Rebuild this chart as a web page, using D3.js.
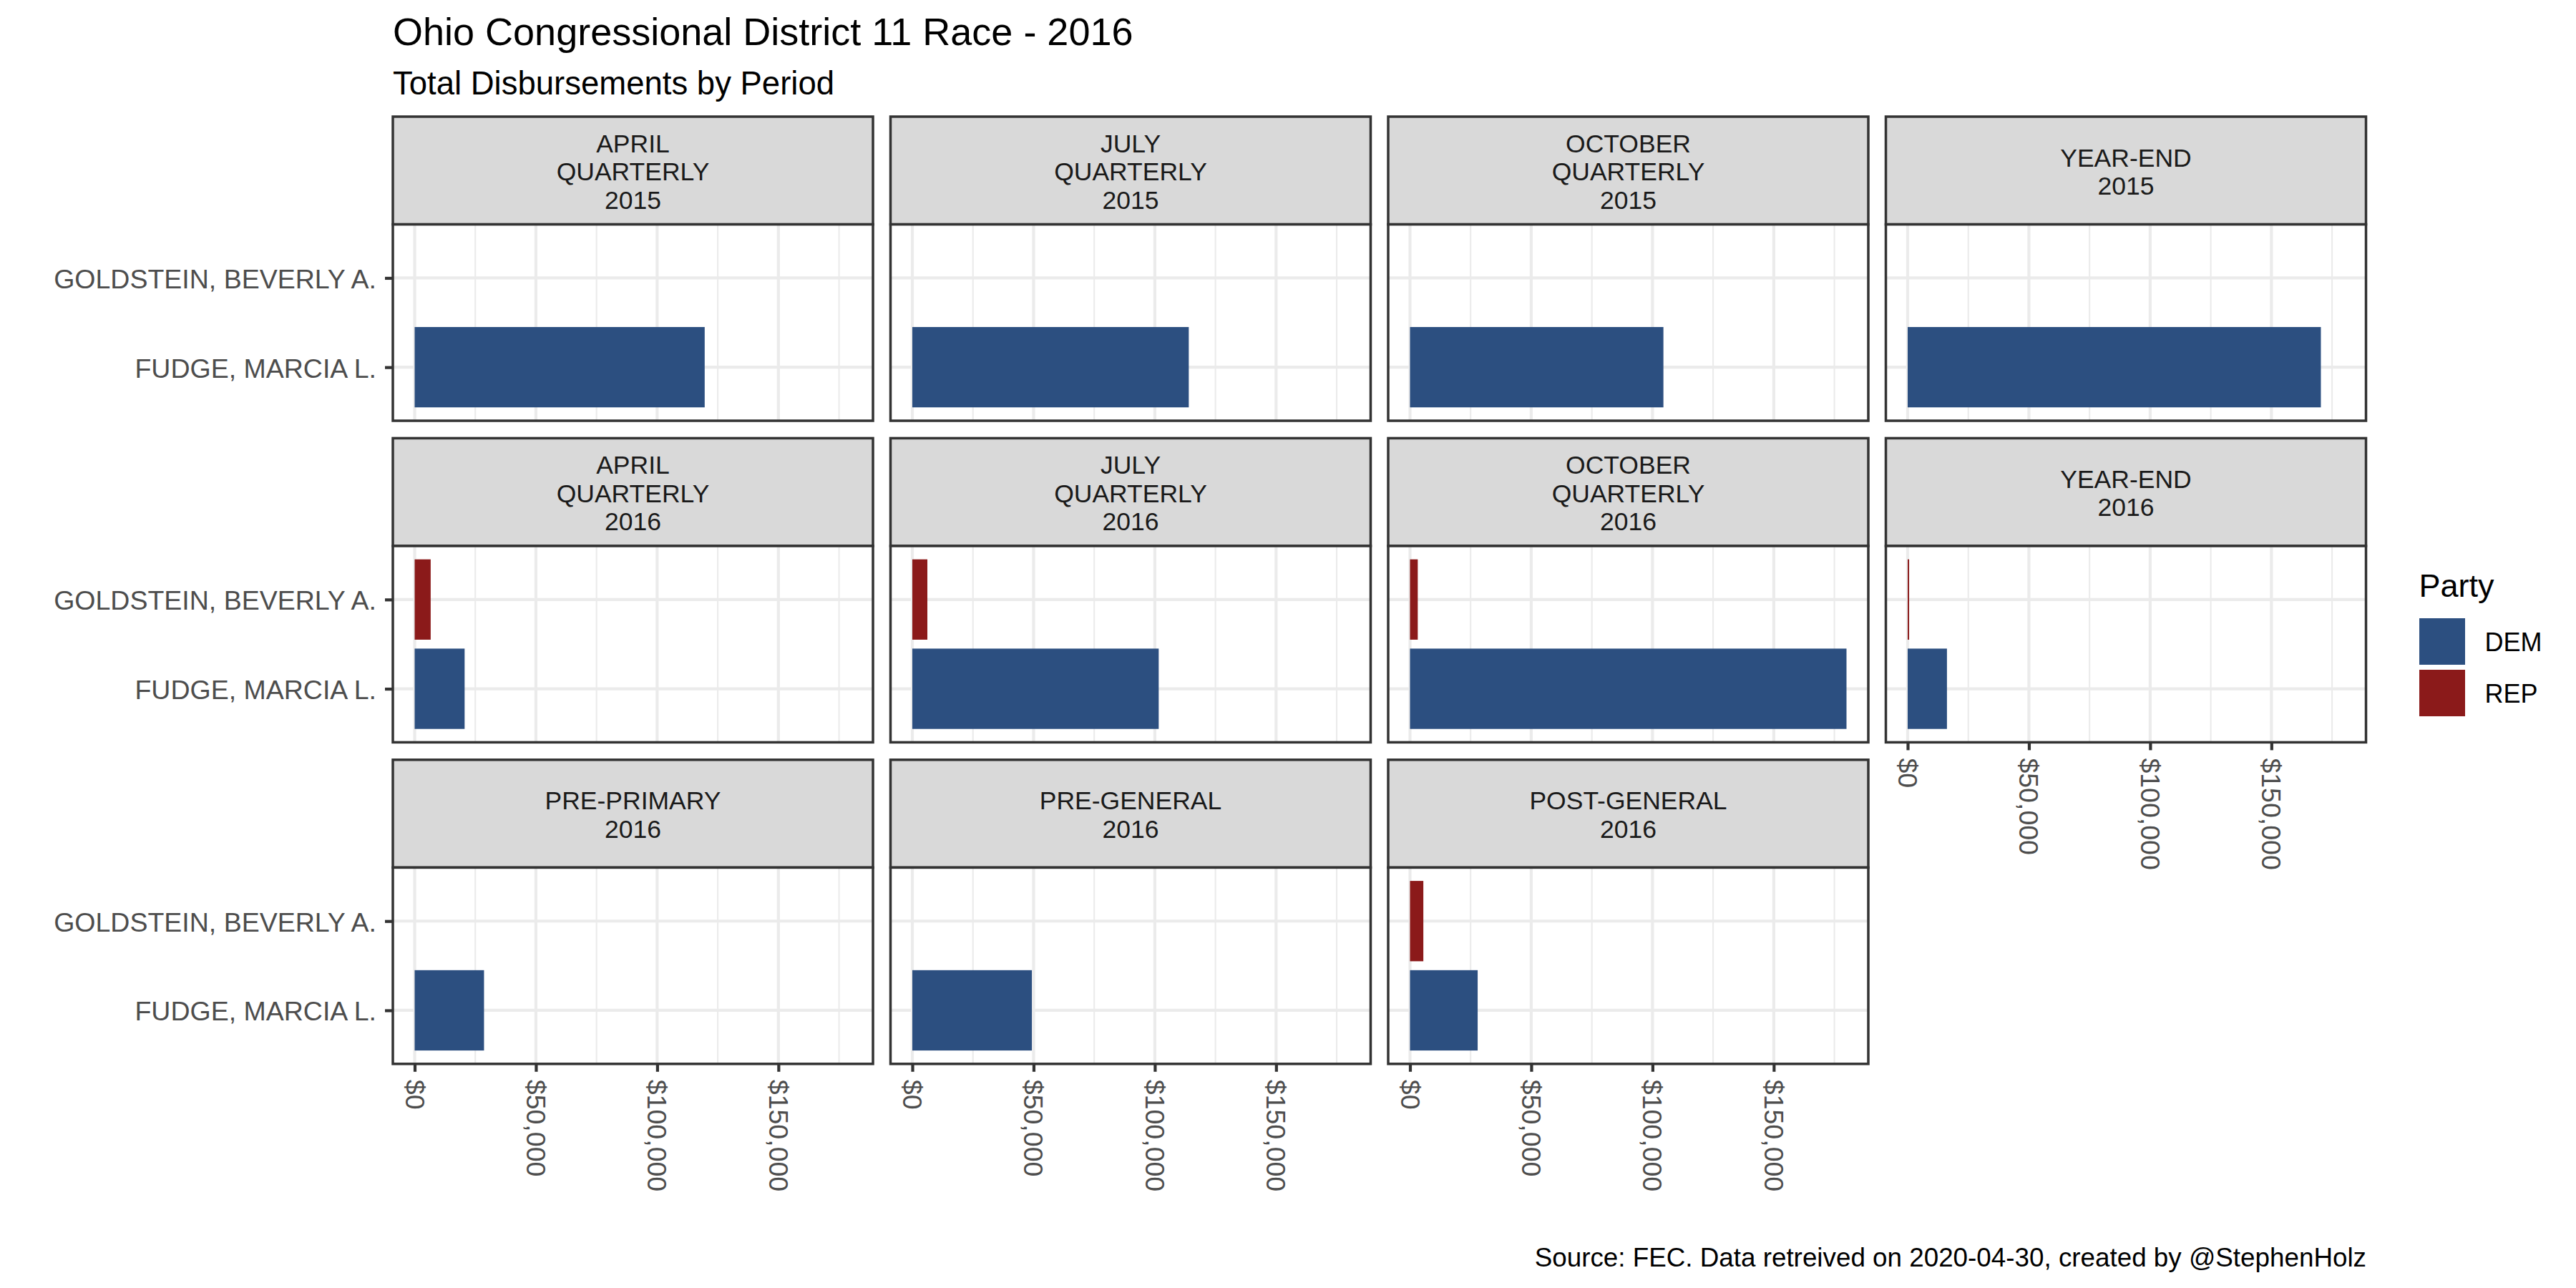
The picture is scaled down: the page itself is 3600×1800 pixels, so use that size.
<!DOCTYPE html>
<meta charset="utf-8">
<html>
<head>
<title>Ohio CD 11 disbursements</title>
<script src="https://cdn.jsdelivr.net/npm/d3@7"></script>
<style>
  body { margin: 0; background: #fff; }
  text { font-family: "Liberation Sans", Arial, sans-serif; }
</style>
</head>
<body>
<div id="chart"></div>
<script>
// facet labels (one entry per panel, lines split by "\n")
var periods = ["APRIL\nQUARTERLY\n2015", "JULY\nQUARTERLY\n2015", "OCTOBER\nQUARTERLY\n2015", "YEAR-END\n2015",
               "APRIL\nQUARTERLY\n2016", "JULY\nQUARTERLY\n2016", "OCTOBER\nQUARTERLY\n2016", "YEAR-END\n2016",
               "PRE-PRIMARY\n2016", "PRE-GENERAL\n2016", "POST-GENERAL\n2016"];
var candidates = ["GOLDSTEIN, BEVERLY A.", "FUDGE, MARCIA L."];
var parties = ["DEM", "REP"];
var partyColors = ["#2C4F80", "#8B1A1A"];
// disbursements per period (null = no filing)
var fudgeDEM = [119600, 114000, 104500, 170400, 20600, 101600, 180000, 16200, 28600, 49300, 27900];
var goldsteinREP = [null, null, null, null, 6600, 6200, 3200, 600, null, null, 5500];
var xTicks = [0, 50000, 100000, 150000];
var xMinor = [25000, 75000, 125000, 175000];

var W = 3600, H = 1800;
var left = 549, top0 = 163, panelW = 671, panelH = 274.4, stripH = 150.6, gapX = 24.5, gapY = 24.4;
var ncol = 4;
var axisFont = "37.5px";

var svg = d3.select("#chart").append("svg")
    .attr("width", W).attr("height", H);

svg.append("rect").attr("width", W).attr("height", H).attr("fill", "#fff");

svg.append("text").attr("x", left).attr("y", 63)
    .attr("font-size", "54px").attr("fill", "#000")
    .text("Ohio Congressional District 11 Race - 2016");
svg.append("text").attr("x", left).attr("y", 132)
    .attr("font-size", "45.5px").attr("fill", "#000")
    .text("Total Disbursements by Period");

var allVals = fudgeDEM.concat(goldsteinREP.filter(function(d){ return d != null; }));
var xmax = d3.max(allVals);
var x = d3.scaleLinear().domain([-0.05 * xmax, 1.05 * xmax]).range([0, panelW]);
var y = d3.scalePoint().domain(candidates).range([0, panelH]).padding(0.6);
var barH = y.step() * 0.9;

periods.forEach(function(p, i) {
    var col = i % ncol, row = Math.floor(i / ncol);
    var px = left + col * (panelW + gapX);
    var sy = top0 + row * (stripH + panelH + gapY);
    var py = sy + stripH;

    // strip
    var strip = svg.append("g").attr("transform", "translate(" + px + "," + sy + ")");
    strip.append("rect").attr("width", panelW).attr("height", stripH)
        .attr("fill", "#D9D9D9").attr("stroke", "#333333").attr("stroke-width", 3.5);
    var lines = p.split("\n");
    lines.forEach(function(l, j) {
        strip.append("text")
            .attr("x", panelW / 2)
            .attr("y", stripH / 2 - (lines.length - 1) / 2 * 39.3 + j * 39.3 + 14)
            .attr("text-anchor", "middle")
            .attr("font-size", "35.5px").attr("fill", "#1A1A1A")
            .text(l);
    });

    var g = svg.append("g").attr("transform", "translate(" + px + "," + py + ")");
    g.append("rect").attr("width", panelW).attr("height", panelH).attr("fill", "#fff");

    // grid
    g.selectAll(".minor").data(xMinor).enter().append("line")
        .attr("x1", function(d){ return x(d); }).attr("x2", function(d){ return x(d); })
        .attr("y1", 0).attr("y2", panelH)
        .attr("stroke", "#EBEBEB").attr("stroke-width", 2.1);
    g.selectAll(".major").data(xTicks).enter().append("line")
        .attr("x1", function(d){ return x(d); }).attr("x2", function(d){ return x(d); })
        .attr("y1", 0).attr("y2", panelH)
        .attr("stroke", "#EBEBEB").attr("stroke-width", 4.2);
    g.selectAll(".hmajor").data(candidates).enter().append("line")
        .attr("x1", 0).attr("x2", panelW)
        .attr("y1", function(d){ return y(d); }).attr("y2", function(d){ return y(d); })
        .attr("stroke", "#EBEBEB").attr("stroke-width", 4.2);

    // bars
    var rows = [
        {cand: candidates[1], party: 0, v: fudgeDEM[i]},
        {cand: candidates[0], party: 1, v: goldsteinREP[i]}
    ].filter(function(d){ return d.v != null; });
    g.selectAll(".bar").data(rows).enter().append("rect")
        .attr("x", x(0))
        .attr("y", function(d){ return y(d.cand) - barH / 2; })
        .attr("width", function(d){ return x(d.v) - x(0); })
        .attr("height", barH)
        .attr("fill", function(d){ return partyColors[d.party]; });

    g.append("rect").attr("width", panelW).attr("height", panelH)
        .attr("fill", "none").attr("stroke", "#333333").attr("stroke-width", 3.5);

    // y axis on first column
    if (col === 0) {
        var ya = g.append("g").call(d3.axisLeft(y).tickSize(11).tickPadding(12));
        ya.select(".domain").remove();
        ya.selectAll("line").attr("stroke", "#333333").attr("stroke-width", 4.2);
        ya.selectAll("text").attr("font-size", axisFont).attr("fill", "#4D4D4D")
            .attr("font-family", "Liberation Sans, Arial, sans-serif")
            .attr("dy", "0.37em");
    }
    // x axis on bottom panel of each column
    var isBottom = (row === 2) || (row === 1 && col === 3);
    if (isBottom) {
        var xa = g.append("g").attr("transform", "translate(0," + panelH + ")")
            .call(d3.axisBottom(x).tickValues(xTicks).tickSize(11).tickFormat(d3.format("$,")));
        xa.select(".domain").remove();
        xa.selectAll("line").attr("stroke", "#333333").attr("stroke-width", 4.2);
        xa.selectAll("text")
            .attr("font-size", axisFont).attr("fill", "#4D4D4D")
            .attr("font-family", "Liberation Sans, Arial, sans-serif")
            .attr("transform", "rotate(90)")
            .attr("x", 22).attr("y", 0).attr("dy", "0.36em")
            .attr("text-anchor", "start");
    }
});

// legend
svg.append("text").attr("x", 3380.5).attr("y", 833.5)
    .attr("font-size", "45px").attr("fill", "#000").text("Party");
var leg = svg.append("g").attr("transform", "translate(3381,864)");
leg.selectAll("rect").data(parties).enter().append("rect")
    .attr("x", 0).attr("y", function(d, i){ return i * 72; })
    .attr("width", 64).attr("height", 65)
    .attr("fill", function(d, i){ return partyColors[i]; });
leg.selectAll("text").data(parties).enter().append("text")
    .attr("x", 91.6).attr("y", function(d, i){ return i * 72 + 46; })
    .attr("font-size", "36px").attr("fill", "#000")
    .text(function(d){ return d; });

// caption
svg.append("text").attr("x", 3307).attr("y", 1770)
    .attr("text-anchor", "end").attr("font-size", "36.8px").attr("fill", "#000")
    .text("Source: FEC. Data retreived on 2020-04-30, created by @StephenHolz");
</script>
</body>
</html>
